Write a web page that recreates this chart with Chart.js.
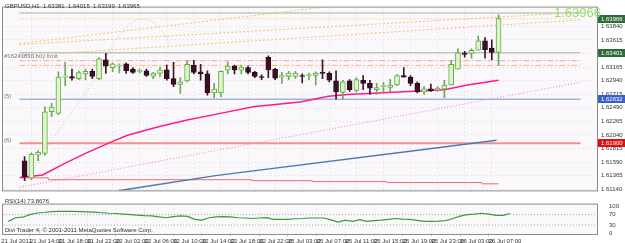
<!DOCTYPE html>
<html>
<head>
<meta charset="utf-8">
<script src="https://cdn.jsdelivr.net/npm/chart.js@4.4.0/dist/chart.umd.min.js"></script>
<style>
  body { margin: 0; background: #fff; width: 625px; height: 243px; overflow: hidden; position: relative; }
  canvas { position: absolute; left: 0; }
  #main { top: 0; }
  #rsi { top: 197px; }
</style>
</head>
<body>
<canvas id="main" width="625" height="198"></canvas>
<canvas id="rsi" width="625" height="46"></canvas>
<script>
// GBPUSD H1, 21 Jul 11:00 .. 26 Jul 09:00 (bar index 0..70)
const opens = [1.61611,1.61324,1.61705,1.61732,1.62423,1.62396,1.62997,1.63008,1.62972,1.63051,
  1.63092,1.62972,1.63286,1.63154,1.63181,1.63217,1.63129,1.63092,1.63103,1.63013,
  1.63060,1.63118,1.62972,1.62878,1.62935,1.63192,1.63087,1.63051,1.62737,1.62737,
  1.63114,1.63181,1.63114,1.63154,1.63076,1.62997,1.63327,1.63129,1.62997,1.63008,
  1.63008,1.63013,1.63024,1.63024,1.63066,1.63060,1.62935,1.62746,1.62935,1.62778,
  1.62946,1.62894,1.62789,1.62840,1.62825,1.62867,1.63024,1.62997,1.62894,1.62752,
  1.62804,1.62784,1.62804,1.62867,1.63129,1.63380,1.63390,1.63443,1.63600,1.63479,
  1.63406];
const highs = [1.61679,1.61741,1.61779,1.62506,1.62564,1.63087,1.63244,1.63129,1.63103,1.63129,
  1.63129,1.63322,1.63390,1.63233,1.63217,1.63233,1.63154,1.63129,1.63129,1.63076,
  1.63165,1.63197,1.63244,1.62988,1.63275,1.63275,1.63208,1.63103,1.62894,1.63103,
  1.63249,1.63197,1.63197,1.63181,1.63092,1.63035,1.63349,1.63145,1.63076,1.63092,
  1.63092,1.63051,1.63066,1.63087,1.63286,1.63087,1.63103,1.62946,1.62957,1.62988,
  1.63024,1.62946,1.62894,1.62910,1.62961,1.63040,1.63154,1.63024,1.62919,1.62840,
  1.62883,1.62840,1.62946,1.63275,1.63468,1.63427,1.63468,1.63679,1.63652,1.63616,
  1.64029];
const lows = [1.61281,1.61297,1.61611,1.61705,1.62344,1.62380,1.62856,1.62946,1.62957,1.62957,
  1.62972,1.62957,1.63060,1.63087,1.63066,1.63060,1.63060,1.63066,1.63008,1.62972,
  1.63008,1.62946,1.62840,1.62726,1.62919,1.63051,1.62946,1.62699,1.62658,1.62674,
  1.63051,1.63051,1.63051,1.63051,1.62988,1.62957,1.62988,1.62957,1.62894,1.62957,
  1.62972,1.62903,1.62957,1.62867,1.62972,1.62919,1.62632,1.62632,1.62762,1.62752,
  1.62789,1.62710,1.62710,1.62752,1.62752,1.62856,1.62997,1.62856,1.62737,1.62710,
  1.62762,1.62762,1.62658,1.62867,1.63129,1.63327,1.63311,1.63443,1.63311,1.63286,
  1.63192];
const closes = [1.61344,1.61716,1.61752,1.62423,1.62501,1.62997,1.63013,1.62982,1.63071,1.63092,
  1.63008,1.63302,1.63181,1.63217,1.63192,1.63103,1.63076,1.63103,1.63024,1.63066,
  1.63118,1.62972,1.62878,1.62919,1.63208,1.63076,1.63051,1.62737,1.62800,1.63092,
  1.63181,1.63118,1.63165,1.63076,1.63008,1.62992,1.63118,1.62982,1.63024,1.63066,
  1.63066,1.63008,1.63035,1.63066,1.63060,1.62946,1.62752,1.62919,1.62789,1.62957,
  1.62894,1.62815,1.62825,1.62846,1.62867,1.63024,1.62997,1.62894,1.62752,1.62804,
  1.62773,1.62815,1.62867,1.63208,1.63401,1.63374,1.63443,1.63600,1.63453,1.63406,
  1.63966];

const rsiValues = [44,58,60,70,76,78,81,82,82,82,
  81,80,79,77,75,74,72,70,68,66,
  65,61,58,62,65,63,52,49,58,61,
  62,61,58,57,55,57,58,52,52,52,
  54,55,57,57,57,50,41,49,44,51,
  44,47,49,52,55,53,52,48,44,44,
  45,47,55,64,70,72,75,72,67,67,
  74];

// [bar, price] points
const maFast = [[-0.7,1.61333],[2.65,1.61376],[5.86,1.61564],[9.07,1.61737],[12.83,1.61925],[15.2,1.62035],
  [19.8,1.62176],[24,1.62286],[28.2,1.62380],[33.75,1.62506],[40.7,1.62584],[44.9,1.62679],[47.7,1.62710],
  [57.5,1.62765],[62,1.62789],[65.4,1.62867],[70,1.62946]];
const maSlow = [[13.8,1.61113],[28.2,1.61365],[57.5,1.61779],[69.7,1.61952]];
const lowStep = [[-0.75,1.61328],[3.5,1.61297],[33.5,1.61281],[42.5,1.61266],[53.5,1.61250],[67.5,1.61229],[70,1.61229]];
const pinkTrend = [[-0.75,1.61171],[82.1,1.62914]];
const orangeTrend1 = [[-0.75,1.63350],[82.1,1.63946]];
const orangeTrend2 = [[-0.75,1.63538],[82.1,1.64071]];
const orangeTrend3 = [[-0.75,1.63554],[49.5,1.64229]];
const grayArc = [[-0.7,1.61109],[5.16,1.62129],[11.16,1.63103],[12.83,1.63495],[14.92,1.63809],
  [16.6,1.63950],[18.4,1.63935],[20.2,1.63778],[21.6,1.63526]];

const timeLabels = ["21 Jul 2011","21 Jul 14:00","21 Jul 18:00","21 Jul 22:00","22 Jul 02:00","22 Jul 06:00",
  "22 Jul 10:00","22 Jul 14:00","22 Jul 18:00","22 Jul 22:00","25 Jul 03:00","25 Jul 07:00","25 Jul 11:00",
  "25 Jul 15:00","25 Jul 19:00","25 Jul 23:00","26 Jul 03:00","26 Jul 07:00"];
const timeTickBars = [-1,3,7,11,15,19,23,27,31,35,39,43,47,51,55,59,63,67];
const priceTicks = [1.61140,1.61365,1.61590,1.61815,1.62040,1.62265,1.62490,1.62715,1.62940,1.63165,1.63390,1.63615,1.63840];
const rsiTicks = [0,30,70,100];

const topLine = 1.64060, midLine = 1.63401, bidLine = 1.63966;
const buyLimit = 1.63270, stopLevel = 1.63192;
const blueLevel = 1.62632, redLevel = 1.61900;

const X_MIN = -0.75, X_MAX = 82.1;
const FONT = '"Liberation Sans", Arial, sans-serif';

const pts = arr => arr.map(p => ({ x: p[0], y: p[1] }));
const hline = v => [{ x: X_MIN, y: v }, { x: X_MAX, y: v }];
const bull = opens.map((o, i) => closes[i] >= o);

function lineSet(data, color, width, dash, extra) {
  return Object.assign({ type: 'line', data, borderColor: color, borderWidth: width, borderDash: dash || [],
    pointRadius: 0, fill: false, tension: 0, order: 3 }, extra || {});
}

const frame = {
  id: 'frame',
  beforeDraw(chart) {
    const { ctx, chartArea: a } = chart;
    ctx.save();
    ctx.fillStyle = '#fbf8fb';
    ctx.fillRect(a.left, a.top, a.right - a.left, a.bottom - a.top);
    ctx.restore();
  },
  afterDraw(chart) {
    const { ctx, chartArea: a } = chart;
    ctx.save();
    ctx.strokeStyle = '#8c8c8c';
    ctx.lineWidth = 1;
    ctx.strokeRect(a.left - 0.5, a.top - 0.5, a.right - a.left + 1, a.bottom - a.top + 1);
    ctx.restore();
  }
};

function box(ctx, y, val, bg, fg) {
  ctx.fillStyle = bg;
  ctx.fillRect(598, Math.round(y) - 4, 27, 8);
  ctx.fillStyle = fg;
  ctx.textBaseline = 'middle';
  ctx.fillText(val.toFixed(5), 601, Math.round(y));
}

const mainText = {
  id: 'mainText',
  afterDraw(chart) {
    const { ctx } = chart;
    const y = chart.scales.y;
    ctx.save();
    ctx.font = '6px ' + FONT;
    ctx.fillStyle = '#333';
    ctx.textBaseline = 'middle';
    ctx.fillText('GBPUSD,H1  1.63381  1.64015  1.63199  1.63965', 5, 6);
    ctx.fillStyle = '#777';
    ctx.fillText('#16241830 buy limit', 4, y.getPixelForValue(buyLimit) - 4);
    ctx.fillText('(5)', 4, y.getPixelForValue(blueLevel) - 3);
    ctx.fillText('(6)', 4, y.getPixelForValue(redLevel) - 3);
    box(ctx, y.getPixelForValue(bidLine), bidLine, '#2f6b3a', '#fff');
    box(ctx, y.getPixelForValue(midLine), midLine, '#2f6b3a', '#fff');
    box(ctx, y.getPixelForValue(blueLevel), blueLevel, '#3a5fcd', '#fff');
    box(ctx, y.getPixelForValue(redLevel), redLevel, '#e01010', '#fff');
    ctx.font = '13px ' + FONT;
    ctx.fillStyle = '#93e06c';
    ctx.textAlign = 'right';
    ctx.fillText(bidLine.toFixed(5), 601, 13);
    ctx.restore();
  }
};

const rsiText = {
  id: 'rsiText',
  afterDraw(chart) {
    const { ctx } = chart;
    ctx.save();
    ctx.font = '6px ' + FONT;
    ctx.fillStyle = '#333';
    ctx.textBaseline = 'middle';
    ctx.fillText('RSI(14) 73.8676', 5, 4);
    ctx.fillText('Divi Trader 4, \u00a9 2001-2011 MetaQuotes Software Corp.', 5, 33);
    ctx.restore();
  }
};

const gridX = {
  color: c => (c.tick && c.tick.value < X_MIN ? 'transparent' : '#e2d8e2'),
  lineWidth: 1, tickLength: 3, drawTicks: false
};

new Chart(document.getElementById('main'), {
  type: 'bar',
  data: {
    datasets: [
      { type: 'bar', order: 0, grouped: false, barThickness: 5, minBarLength: 1, borderSkipped: false, borderWidth: 1,
        data: opens.map((o, i) => ({ x: i, y: [o, closes[i]] })),
        backgroundColor: bull.map(b => (b ? '#e0f3cc' : '#3b1026')),
        borderColor: bull.map(b => (b ? '#5fae44' : '#2a0818')) },
      { type: 'bar', order: 1, grouped: false, barThickness: 1, borderWidth: 0,
        data: lows.map((l, i) => ({ x: i, y: [l, highs[i]] })),
        backgroundColor: bull.map(b => (b ? '#6aa955' : '#3a1a2a')) },
      lineSet(pts(maFast), '#ff1a8c', 1.5),
      lineSet(pts(maSlow), '#4b7bb3', 1.5),
      lineSet(pts(lowStep), '#f06a6a', 1, [], { stepped: 'before' }),
      lineSet(pts(pinkTrend), '#f57fc3', 1, [1, 2]),
      lineSet(pts(grayArc), '#c8c4c8', 1, [1, 2], { tension: 0.4, order: 4 }),
      lineSet(pts(orangeTrend1), '#f8c070', 1, [2, 2]),
      lineSet(pts(orangeTrend2), '#f8c070', 1, [2, 2]),
      lineSet(pts(orangeTrend3), '#f8c070', 1, [2, 2]),
      lineSet(hline(topLine), '#9fb59f', 1),
      lineSet(hline(midLine), '#9fb59f', 1),
      lineSet(hline(bidLine), '#f8c070', 1, [1, 2]),
      lineSet(hline(buyLimit), '#f4a0a0', 1, [6, 2, 2, 2]),
      lineSet(hline(stopLevel), '#f6b48c', 1, [6, 2, 2, 2]),
      lineSet(hline(blueLevel), '#6f8fe0', 1),
      lineSet(hline(redLevel), '#f29090', 2)
    ]
  },
  options: {
    responsive: false, animation: false, devicePixelRatio: 1,
    layout: { padding: { left: 3, top: 3, bottom: 1, right: 0 } },
    plugins: { legend: { display: false }, tooltip: { enabled: false } },
    scales: {
      x: { type: 'linear', min: X_MIN, max: X_MAX, ticks: { display: false }, border: { display: false, dash: [1, 3] },
        grid: gridX,
        afterBuildTicks: s => { s.ticks = timeTickBars.map(v => ({ value: v })); } },
      y: { position: 'right', min: 1.6112, max: 1.6415, border: { display: false, dash: [1, 3] },
        grid: { color: '#e2d8e2', drawTicks: false },
        afterBuildTicks: s => { s.ticks = priceTicks.map(v => ({ value: v })); },
        afterFit: s => { s.width = 28; },
        ticks: { padding: 4, autoSkip: false, color: '#333', font: { size: 6, family: FONT }, callback: v => v.toFixed(5) } }
    }
  },
  plugins: [frame, mainText]
});

new Chart(document.getElementById('rsi'), {
  type: 'line',
  data: {
    datasets: [
      { data: rsiValues.map((v, i) => ({ x: i, y: v })), borderColor: '#3c9a3c', borderWidth: 1.2, pointRadius: 0, tension: 0 },
      lineSet(hline(70), '#aaaaaa', 1, [1, 2]),
      lineSet(hline(30), '#aaaaaa', 1, [1, 2])
    ]
  },
  options: {
    responsive: false, animation: false, devicePixelRatio: 1,
    layout: { padding: { left: 3, top: 1, bottom: 0, right: 0 } },
    plugins: { legend: { display: false }, tooltip: { enabled: false } },
    scales: {
      x: { type: 'linear', min: X_MIN, max: X_MAX, border: { display: false, dash: [1, 3] },
        grid: Object.assign({}, gridX, { drawTicks: true }),
        afterBuildTicks: s => { s.ticks = timeTickBars.map(v => ({ value: v })); },
        afterFit: s => { s.height = 9; },
        ticks: { align: 'start', padding: 1, maxRotation: 0, autoSkip: false, color: '#333',
          font: { size: 6, family: FONT }, callback: (v, i) => timeLabels[i] } },
      y: { position: 'right', min: -4, max: 108, border: { display: false },
        grid: { display: false },
        afterBuildTicks: s => { s.ticks = rsiTicks.map(v => ({ value: v })); },
        afterFit: s => { s.width = 28; },
        ticks: { padding: 4, autoSkip: false, color: '#333', font: { size: 6, family: FONT } } }
    }
  },
  plugins: [frame, rsiText]
});
</script>
</body>
</html>
